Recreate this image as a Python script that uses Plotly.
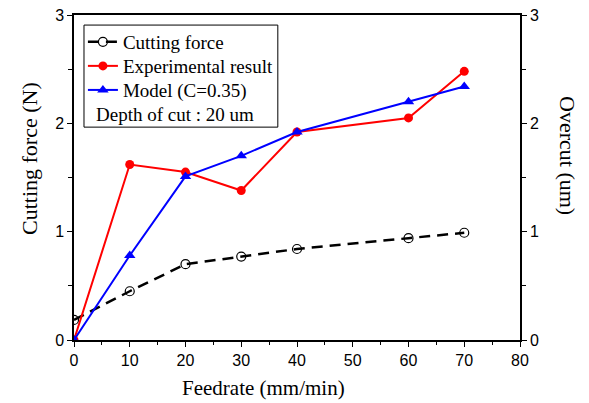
import plotly.graph_objects as go

feedrate = [0, 10, 20, 30, 40, 60, 70]
cutting_force = [0.185, 0.45, 0.70, 0.77, 0.84, 0.94, 0.99]
experimental = [0.0, 1.62, 1.55, 1.38, 1.92, 2.05, 2.48]
model = [0.0, 0.78, 1.51, 1.70, 1.92, 2.20, 2.34]

x_ticks = [0, 10, 20, 30, 40, 50, 60, 70, 80]
y_ticks = [0, 1, 2, 3]

SERIF = "Liberation Serif"
SANS = "Liberation Sans"

fig = go.Figure()
fig.add_trace(go.Scatter(
    x=feedrate, y=cutting_force, name="Cutting force", mode="lines+markers",
    line=dict(color="black", width=2.5, dash="11px,7px"),
    marker=dict(symbol="circle-open", size=9, color="black", line=dict(width=1.2)),
    legend="legend",
))
fig.add_trace(go.Scatter(
    x=feedrate, y=experimental, name="Experimental result", mode="lines+markers",
    line=dict(color="#ff0000", width=2), marker=dict(symbol="circle", size=9, color="#ff0000"),
    yaxis="y2", legend="legend2",
))
fig.add_trace(go.Scatter(
    x=feedrate, y=model, name="Model (C=0.35)", mode="lines+markers",
    line=dict(color="#0000ff", width=2), marker=dict(symbol="triangle-up", size=10, color="#0000ff"),
    yaxis="y2", legend="legend3",
))

axis_common = dict(
    showline=True, linecolor="black", linewidth=1.5, showgrid=False, zeroline=False,
    ticks="outside", ticklen=5, tickwidth=1, tickcolor="black", automargin=False,
    tickfont=dict(family=SANS, size=16, color="black"), ticklabeloverflow="allow",
)

def leg(y):
    return dict(x=0.02, y=y, xanchor="left", yanchor="middle",
                bgcolor="rgba(0,0,0,0)", borderwidth=0,
                font=dict(family=SERIF, size=19, color="black"), itemwidth=30)

fig.update_layout(
    width=589, height=403,
    margin=dict(l=74, r=69, t=15, b=63),
    paper_bgcolor="white", plot_bgcolor="white",
    showlegend=True,
    xaxis=dict(range=[0, 80], tickvals=x_ticks, mirror=True,
               minor=dict(dtick=5, tick0=0, ticks="outside", ticklen=3, tickcolor="black"),
               **axis_common),
    yaxis=dict(range=[0, 3], tickvals=y_ticks,
               minor=dict(dtick=0.5, tick0=0, ticks="outside", ticklen=4, tickcolor="black"),
               **axis_common),
    yaxis2=dict(range=[0, 3], tickvals=y_ticks, overlaying="y", side="right",
                minor=dict(dtick=0.5, tick0=0, ticks="outside", ticklen=4, tickcolor="black"),
                **axis_common),
    legend=leg(0.917),
    legend2=leg(0.843),
    legend3=leg(0.769),
    shapes=[dict(type="rect", xref="paper", yref="paper",
                 x0=0.0224, x1=0.457, y0=0.655, y1=0.969,
                 line=dict(color="black", width=1), fillcolor="rgba(0,0,0,0)")],
    annotations=[
        dict(text="Depth of cut : 20 um", xref="paper", yref="paper",
             x=0.045, y=0.695, xanchor="left", yanchor="middle", showarrow=False,
             font=dict(family=SERIF, size=19, color="black")),
        dict(text="Feedrate (mm/min)", xref="paper", yref="paper",
             x=0.425, y=-0.148, xanchor="center", yanchor="middle", showarrow=False,
             font=dict(family=SERIF, size=21, color="black")),
        dict(text="Cutting force (N)", xref="paper", yref="paper", textangle=-90,
             x=-0.0987, y=0.56, xanchor="center", yanchor="middle", showarrow=False,
             font=dict(family=SERIF, size=22, color="black")),
        dict(text="Overcut (um)", xref="paper", yref="paper", textangle=90,
             x=1.1076, y=0.566, xanchor="center", yanchor="middle", showarrow=False,
             font=dict(family=SERIF, size=22, color="black")),
    ],
)

fig.write_html("out.html", config={"displayModeBar": False},
               post_script="document.body.style.margin='0px';")
